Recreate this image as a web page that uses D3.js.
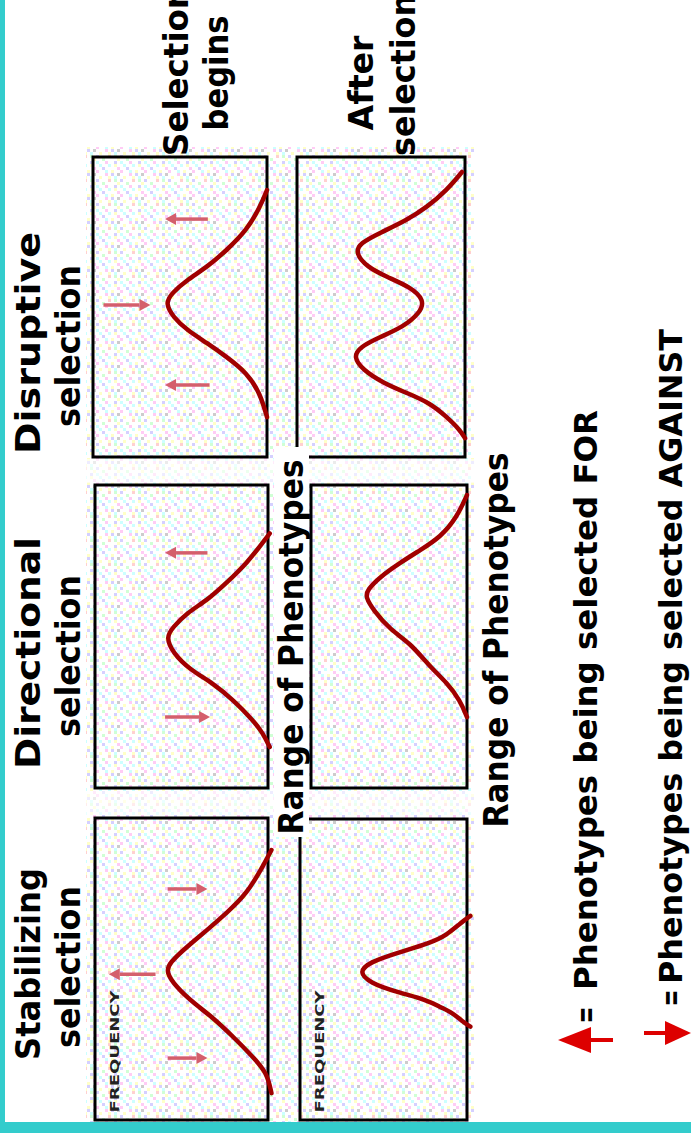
<!DOCTYPE html>
<html><head><meta charset="utf-8">
<script src="https://cdn.jsdelivr.net/npm/d3@7"></script>
<style>html,body{margin:0;padding:0;background:#fff;}svg{display:block;}</style>
</head><body>
<svg id="chart" width="691" height="1133"></svg>
<script>
// ---------- DATA (phenotype 0-100 across panel, frequency 0-100 up panel) ----------
const columnTitles = ["Stabilizing", "Directional", "Disruptive"];
const columnSubtitle = "selection";
const rowTitles = [["Selection", "begins"], ["After", "selection"]];
const axisLabel = "Range of Phenotypes";
const yLabel = "FREQUENCY";
const legendLabels = ["Phenotypes being selected FOR", "Phenotypes being selected AGAINST"];

const stabilizingBefore = [[8.9,-2],[15.6,0.6],[20.9,8.7],[27.5,20],[34,32],[38.7,43],[44,53],[49,59],[52,57],[57.3,47],[63,35],[68.5,24],[75,12],[85,2],[89.4,-2]];
const directionalBefore = [[13.5,-1],[18.2,3],[22.4,8.7],[29,20],[34.7,32],[39,45],[44.6,55],[49.8,59],[53,55],[57.8,47],[62,35],[67.7,24],[74.3,12],[81.8,2],[84,-1]];
const disruptiveBefore  = [[13.3,0],[21.3,4],[28,11.5],[33.3,23],[38,34.5],[42.3,46],[46.7,54],[51.3,58.5],[54.7,54.6],[59,46],[63.3,34.5],[69,23],[75.7,11.5],[83.3,4],[89,0]];
const stabilizingAfter  = [[31,-2],[32.6,2.4],[35.5,8.4],[37.5,16],[39.9,24],[42.5,42],[45.5,58],[49.2,65],[52.5,58],[55.5,42],[58.8,22],[61.5,12],[65.4,4],[67.8,-2]];
const directionalAfter  = [[23.4,0],[29,4.5],[34.7,12.8],[40,23.7],[47.9,36.5],[52.1,49],[58.7,60],[63,65],[65.3,64],[69.6,56],[74.3,43],[78.5,30],[82.8,17],[89.4,6.4],[96.7,0]];
const disruptiveAfter   = [[6.3,0],[9,3],[13.3,10.7],[18,20.8],[21.3,34.5],[24.7,48.8],[29,60.7],[33.3,66.5],[36.7,62.5],[40,50.6],[43.3,36.9],[48,26.8],[52.3,24],[56.7,32.7],[60,46.4],[63.3,58.3],[68,65.3],[71.3,62.5],[74.7,50.6],[79,34.5],[83.3,22.6],[89,10.7],[95,1.8]];

// selection arrows: [phenotype, tail frequency, head frequency]
const stabilizingArrows = [[48.3,65,92],[20.5,58,35],[76.5,58,35]];
const directionalArrows = [[77.6,35,59.5],[23.4,59.5,33.5]];
const disruptiveArrows  = [[79.3,34,58.6],[50.7,94,67],[24,33,58.6]];

// ---------- LAYOUT (drawn unrotated, then rotated -90deg) ----------
const W = 1133, H = 691;
const svg = d3.select("#chart");
const root = svg.append("g").attr("transform", `translate(0,${W}) rotate(-90)`);

const ditherColors = ['#ffccf5','#ccffff','#ffffc8','#d5d0ff','#d0ffd5','#ffd0d0','#cccccc'];
const ditherCells = [[0,0,0],[3,0,1],[6,1,2],[1,2,3],[4,2,4],[7,3,0],[2,4,1],[5,4,5],[0,5,2],[3,6,3],[6,6,1],[1,7,0],[4,7,2],[7,7,6],[2,1,1],[5,0,3],[6,4,2],[0,3,1],[3,3,0],[5,6,4],[7,5,3],[2,6,2]];
const defs = svg.append("defs");
const pat = defs.append("pattern").attr("id","dither").attr("patternUnits","userSpaceOnUse")
  .attr("width",24).attr("height",24);
pat.append("rect").attr("width",24).attr("height",24).attr("fill","#fff");
pat.selectAll("rect.c").data(ditherCells).join("rect").attr("class","c")
  .attr("x",d=>d[0]*3).attr("y",d=>d[1]*3).attr("width",3).attr("height",3)
  .attr("fill",d=>ditherColors[d[2]]);

const FONT = '"DejaVu Sans Condensed","DejaVu Sans",sans-serif';

// cyan frame
root.append("rect").attr("x",0).attr("y",0).attr("width",W).attr("height",5).attr("fill","#33cccc");
root.append("rect").attr("x",0).attr("y",0).attr("width",11).attr("height",H).attr("fill","#33cccc");

// dithered background under panels
root.append("rect").attr("x",11).attr("y",86).attr("width",975).attr("height",388).attr("fill","url(#dither)");
root.append("rect").attr("x",318).attr("y",86).attr("width",24).attr("height",388).attr("fill","#fff").attr("opacity",0.6);
root.append("rect").attr("x",650).attr("y",86).attr("width",24).attr("height",388).attr("fill","#fff").attr("opacity",0.6);

const panels = [
  {data: stabilizingBefore, arrows: stabilizingArrows, x0:13, x1:315, top:95, bottom:268, freq:true},
  {data: directionalBefore, arrows: directionalArrows, x0:345, x1:648, top:95, bottom:268},
  {data: disruptiveBefore,  arrows: disruptiveArrows,  x0:676, x1:976, top:93, bottom:267},
  {data: stabilizingAfter,  arrows: [], x0:13, x1:314, top:300, bottom:467, freq:true},
  {data: directionalAfter,  arrows: [], x0:345, x1:648, top:311, bottom:467},
  {data: disruptiveAfter,   arrows: [], x0:676, x1:976, top:297, bottom:465}
];

const arrowColor = "#d45f6c";
panels.forEach(p => {
  const x = d3.scaleLinear().domain([0,100]).range([p.x0, p.x1]);
  const y = d3.scaleLinear().domain([0,100]).range([p.bottom, p.top]);
  const g = root.append("g");
  g.append("rect").attr("x",p.x0).attr("y",p.top).attr("width",p.x1-p.x0).attr("height",p.bottom-p.top)
    .attr("fill","url(#dither)").attr("stroke","#000").attr("stroke-width",3);
  if (p.freq) {
    g.append("text").attr("x",x(2.5)).attr("y",p.top+24).attr("font-family",FONT).attr("font-weight","bold")
      .attr("font-size",12).attr("textLength",122).attr("lengthAdjust","spacingAndGlyphs").attr("fill","#222").text(yLabel);
  }
  p.arrows.forEach(a => {
    const ax = x(a[0]), yt = y(a[1]), yh = y(a[2]);
    const dir = yh < yt ? -1 : 1;
    const headLen = 11, half = 6;
    const base = yh - dir*headLen;
    g.append("line").attr("x1",ax).attr("x2",ax).attr("y1",yt).attr("y2",base)
      .attr("stroke",arrowColor).attr("stroke-width",3.5);
    g.append("path").attr("d",`M${ax},${yh}L${ax-half},${base}L${ax+half},${base}Z`).attr("fill",arrowColor);
  });
  g.append("path").datum(p.data)
    .attr("d", d3.line().x(d=>x(d[0])).y(d=>y(d[1])).curve(d3.curveBasis))
    .attr("fill","none").attr("stroke","#a00000").attr("stroke-width",4.5).attr("stroke-linecap","round");
});

function txt(s, cx, base, len, size, anchor) {
  return root.append("text").attr("x",cx).attr("y",base).attr("text-anchor",anchor||"middle")
    .attr("font-family",FONT).attr("font-weight","bold").attr("font-size",size)
    .attr("textLength",len).attr("lengthAdjust","spacingAndGlyphs").attr("fill","#000").text(s);
}

// column titles
const colCenters = [169, 480, 790];
const colLens = [192, 232, 222];
columnTitles.forEach((t,i) => {
  txt(t, colCenters[i], 40, colLens[i], 33);
  txt(columnSubtitle, colCenters[i] - 3, 80, 162, 33);
});

// range of phenotypes labels
root.append("rect").attr("x",296).attr("y",274).attr("width",390).attr("height",35).attr("fill","#fff");
txt(axisLabel, 486, 303, 375, 33);
txt(axisLabel, 493, 508, 375, 33);

// row titles (partly beyond the edge, as in the source)
txt(rowTitles[0][0], 1062, 188, 170, 33);
txt(rowTitles[0][1], 1060, 228, 115, 33);
txt(rowTitles[1][0], 1050, 373, 95, 33);
txt(rowTitles[1][1], 1058, 415, 162, 33);

// legend
const legendY = [597, 682];
const legendStart = [143, 149];
const legendLens = [580, 655];
const eqX = [118, 135];
legendLabels.forEach((t,i) => {
  txt(t, legendStart[i], legendY[i], legendLens[i], 32, "start");
  txt("=", eqX[i], legendY[i], 17, 32);
});
const legendArrows = [{x:93, tail:613, tip:558, half:13, len:33}, {x:100, tail:644, tip:691, half:12, len:26}];
legendArrows.forEach(a => {
  const dir = a.tip < a.tail ? -1 : 1;
  const base = a.tip - dir*a.len;
  root.append("line").attr("x1",a.x).attr("x2",a.x).attr("y1",a.tail).attr("y2",base)
    .attr("stroke","#dd0000").attr("stroke-width",4);
  root.append("path").attr("d",`M${a.x},${a.tip}L${a.x-a.half},${base}L${a.x+a.half},${base}Z`).attr("fill","#dd0000");
});
</script>
</body></html>
